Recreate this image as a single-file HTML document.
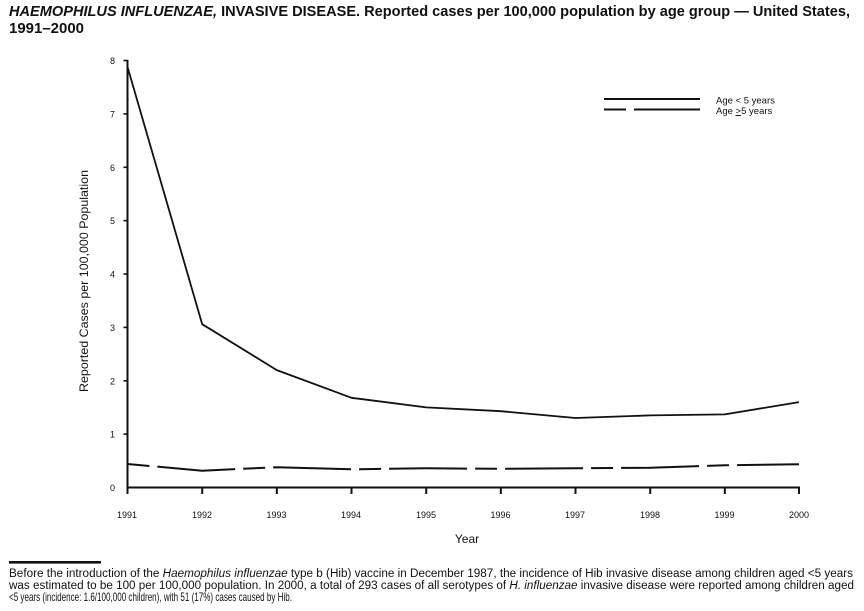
<!DOCTYPE html>
<html>
<head>
<meta charset="utf-8">
<style>
  html, body { margin: 0; padding: 0; background: #fff; }
  body { width: 864px; height: 611px; overflow: hidden; }
  svg { display: block; }
  text { font-family: "Liberation Sans", "DejaVu Sans", sans-serif; fill: #111; }
</style>
</head>
<body>
<svg width="864" height="611" viewBox="0 0 864 611" xmlns="http://www.w3.org/2000/svg">
  <!-- Title -->
  <text x="9" y="16" font-size="15" font-weight="bold" textLength="841" lengthAdjust="spacingAndGlyphs"><tspan font-style="italic">HAEMOPHILUS INFLUENZAE,</tspan> INVASIVE DISEASE. Reported cases per 100,000 population by age group — United States,</text>
  <text x="9" y="33" font-size="15" font-weight="bold" textLength="75" lengthAdjust="spacingAndGlyphs">1991–2000</text>

  <!-- Axes -->
  <line x1="127.5" y1="60" x2="127.5" y2="488.5" stroke="#111" stroke-width="2"/>
  <line x1="126.5" y1="487.5" x2="800" y2="487.5" stroke="#111" stroke-width="2"/>

  <!-- Y ticks -->
  <g stroke="#111" stroke-width="1.6">
    <line x1="123.5" y1="60.5" x2="127.5" y2="60.5"/>
    <line x1="123.5" y1="113.9" x2="127.5" y2="113.9"/>
    <line x1="123.5" y1="167.3" x2="127.5" y2="167.3"/>
    <line x1="123.5" y1="220.6" x2="127.5" y2="220.6"/>
    <line x1="123.5" y1="274" x2="127.5" y2="274"/>
    <line x1="123.5" y1="327.4" x2="127.5" y2="327.4"/>
    <line x1="123.5" y1="380.8" x2="127.5" y2="380.8"/>
    <line x1="123.5" y1="434.1" x2="127.5" y2="434.1"/>
  </g>
  <g font-size="9" text-anchor="end">
    <text x="115" y="64">8</text>
    <text x="115" y="117.4">7</text>
    <text x="115" y="170.8">6</text>
    <text x="115" y="224.1">5</text>
    <text x="115" y="277.5">4</text>
    <text x="115" y="330.9">3</text>
    <text x="115" y="384.3">2</text>
    <text x="115" y="437.6">1</text>
    <text x="115" y="491">0</text>
  </g>

  <!-- X ticks -->
  <g stroke="#111" stroke-width="2">
    <line x1="127.5" y1="487" x2="127.5" y2="494"/>
    <line x1="202.2" y1="487" x2="202.2" y2="494"/>
    <line x1="276.8" y1="487" x2="276.8" y2="494"/>
    <line x1="351.5" y1="487" x2="351.5" y2="494"/>
    <line x1="426.2" y1="487" x2="426.2" y2="494"/>
    <line x1="500.8" y1="487" x2="500.8" y2="494"/>
    <line x1="575.5" y1="487" x2="575.5" y2="494"/>
    <line x1="650.2" y1="487" x2="650.2" y2="494"/>
    <line x1="724.8" y1="487" x2="724.8" y2="494"/>
    <line x1="799" y1="487" x2="799" y2="494"/>
  </g>
  <g font-size="9" text-anchor="middle">
    <text x="127" y="518">1991</text>
    <text x="202" y="518">1992</text>
    <text x="276.5" y="518">1993</text>
    <text x="351" y="518">1994</text>
    <text x="426" y="518">1995</text>
    <text x="500.5" y="518">1996</text>
    <text x="575" y="518">1997</text>
    <text x="650" y="518">1998</text>
    <text x="724.5" y="518">1999</text>
    <text x="799" y="518">2000</text>
  </g>

  <!-- Axis titles -->
  <text x="0" y="0" font-size="12" text-anchor="middle" transform="translate(88,281) rotate(-90)" textLength="222" lengthAdjust="spacingAndGlyphs">Reported Cases per 100,000 Population</text>
  <text x="467" y="543" font-size="12" text-anchor="middle">Year</text>

  <!-- Series: Age < 5 years (solid) -->
  <polyline fill="none" stroke="#111" stroke-width="1.8" stroke-linejoin="round"
    points="127.5,66.9 202.2,324.2 276.8,370.1 351.5,397.8 426.2,407.4 500.8,411.2 575.5,418 650.2,415.4 724.8,414.4 799,402.1"/>

  <!-- Series: Age >=5 years (dashed) -->
  <polyline fill="none" stroke="#111" stroke-width="2" stroke-dasharray="22 8 78 8"
    points="127.5,464 202.2,470.7 276.8,467.2 351.5,469.3 426.2,468.3 500.8,468.8 575.5,468.3 650.2,467.7 724.8,465.3 799,464.3"/>

  <!-- Legend -->
  <line x1="604" y1="99" x2="700" y2="99" stroke="#111" stroke-width="2"/>
  <line x1="604" y1="109.5" x2="626" y2="109.5" stroke="#111" stroke-width="2"/>
  <line x1="634" y1="109.5" x2="700" y2="109.5" stroke="#111" stroke-width="2"/>
  <text x="716" y="103.5" font-size="9.5">Age &lt; 5 years</text>
  <text x="716" y="114" font-size="9.5">Age <tspan text-decoration="underline">&gt;</tspan>5 years</text>

  <!-- Footnote -->
  <rect x="9" y="561" width="92" height="2.6" fill="#111"/>
  <text x="9" y="577" font-size="11.5" textLength="844" lengthAdjust="spacingAndGlyphs">Before the introduction of the <tspan font-style="italic">Haemophilus influenzae</tspan> type b (Hib) vaccine in December 1987, the incidence of Hib invasive disease among children aged &lt;5 years</text>
  <text x="9" y="589" font-size="11.5" textLength="845" lengthAdjust="spacingAndGlyphs">was estimated to be 100 per 100,000 population. In 2000, a total of 293 cases of all serotypes of <tspan font-style="italic">H. influenzae</tspan> invasive disease were reported among children aged</text>
  <g transform="translate(9,0) scale(0.72,1)">
    <text x="0" y="601" font-size="11.5" textLength="393" lengthAdjust="spacingAndGlyphs">&lt;5 years (incidence: 1.6/100,000 children), with 51 (17%) cases caused by Hib.</text>
  </g>
</svg>
</body>
</html>
